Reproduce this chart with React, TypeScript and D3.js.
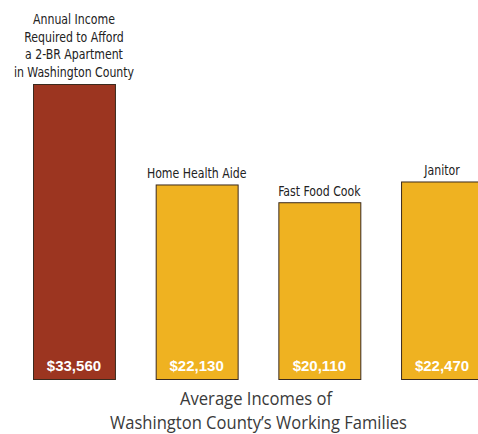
import React from "react";
import * as d3 from "d3";

const categories = ["Required", "Home Health Aide", "Fast Food Cook", "Janitor"];
const values = [33560, 22130, 20110, 22470];
const valueLabels = ["$33,560", "$22,130", "$20,110", "$22,470"];
const firstLabelLines = ["Annual Income", "Required to Afford", "a 2-BR Apartment", "in Washington County"];
const titleLines = ["Average Incomes of", "Washington County\u2019s Working Families"];

const W = 478;
const H = 434;
const condensed = "'DejaVu Sans Condensed', 'Roboto', sans-serif";

function Label({ x, y, text, size = 14, sx = 0.87, fill = "#222", family = condensed }: any) {
  return (
    <text transform={`translate(${x},${y}) scale(${sx},1)`} textAnchor="middle" fill={fill} fontFamily={family} fontSize={size}>
      {text}
    </text>
  );
}

export default function App() {
  const x = d3.scaleBand<string>().domain(categories).range([33, 483]).paddingInner(0.332).paddingOuter(0);
  const y = d3.scaleLinear().domain([0, 33560]).range([379, 84]);
  const colors = ["#9C3520", "#EFB221", "#EFB221", "#EFB221"];

  return (
    <svg width={W} height={H} style={{ position: "absolute", left: 0, top: 0, background: "#fff" }}>
      {categories.map((c, i) => {
        const bx = x(c)!;
        const bw = x.bandwidth();
        const top = y(values[i]);
        const cx = bx + bw / 2;
        return (
          <g key={c}>
            <rect x={bx + 0.5} y={top + 0.5} width={bw} height={y(0) - top} fill={colors[i]} stroke="#3b2a1e" strokeWidth={1} />
            <text x={cx} y={y(0) - 8} textAnchor="middle" fill="#fff" fontFamily="'Liberation Sans', Arial, sans-serif" fontWeight="bold" fontSize={15}>
              {valueLabels[i]}
            </text>
            {i === 0 ? (
              firstLabelLines.map((l, k) => (
                <Label key={k} x={cx} y={top - 7 - (firstLabelLines.length - 1 - k) * 17.7} text={l} />
              ))
            ) : (
              <Label x={cx} y={top - 6} text={c} />
            )}
          </g>
        );
      })}
      <text x={256} y={405} textAnchor="middle" fill="#3a3a3a" fontFamily="'Open Sans', 'Noto Sans', sans-serif" fontSize={19} textLength={152} lengthAdjust="spacingAndGlyphs">
        {titleLines[0]}
      </text>
      <text x={258.5} y={429} textAnchor="middle" fill="#3a3a3a" fontFamily="'Open Sans', 'Noto Sans', sans-serif" fontSize={19} textLength={297} lengthAdjust="spacingAndGlyphs">
        {titleLines[1]}
      </text>
    </svg>
  );
}
